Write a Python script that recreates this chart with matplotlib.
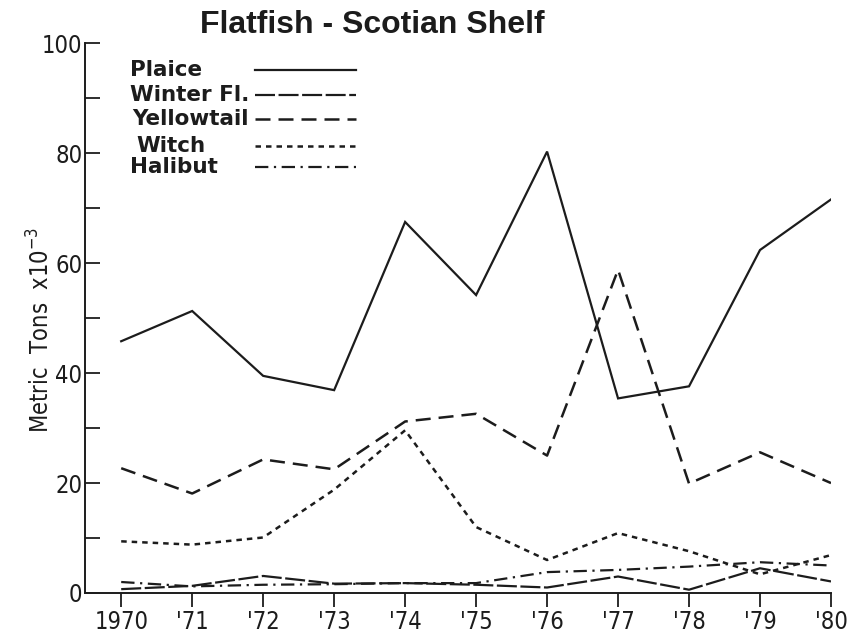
import matplotlib
matplotlib.use("Agg")
import matplotlib.pyplot as plt
from matplotlib import font_manager
from matplotlib.font_manager import FontProperties
import numpy as np
import os

# ---- data ----
years = [1970, 1971, 1972, 1973, 1974, 1975, 1976, 1977, 1978, 1979, 1980]
year_labels = ["1970", "'71", "'72", "'73", "'74", "'75", "'76", "'77", "'78", "'79", "'80"]
plaice = [45.8, 51.3, 39.5, 36.9, 67.5, 54.2, 80.3, 35.4, 37.6, 62.4, 71.6]
winter_fl = [0.7, 1.3, 3.1, 1.7, 1.8, 1.5, 1.0, 3.0, 0.6, 4.5, 2.1]
yellowtail = [22.7, 18.1, 24.3, 22.5, 31.2, 32.6, 25.0, 58.8, 19.9, 25.6, 20.0]
witch = [9.4, 8.8, 10.1, 18.8, 29.6, 12.0, 6.0, 10.9, 7.6, 3.4, 6.9]
halibut = [2.0, 1.2, 1.5, 1.6, 1.8, 1.8, 3.8, 4.2, 4.8, 5.6, 5.0]
series_names = ["Plaice", "Winter Fl.", "Yellowtail", "Witch", "Halibut"]


def find_narrow():
    prefs = ["LiberationSansNarrow-Regular", "DejaVuSansCondensed.ttf",
             "RobotoCondensed-Regular", "OpenSans_Condensed-Regular", "Narrow", "Condensed"]
    files = [f.fname for f in font_manager.fontManager.ttflist]
    for p in prefs:
        for fn in files:
            b = os.path.basename(fn)
            if p in b and "Bold" not in b and "Italic" not in b and "Oblique" not in b:
                return FontProperties(fname=fn)
    return FontProperties(family="Liberation Sans")


narrow = find_narrow()

ink = "#1c1c1c"
fig = plt.figure(figsize=(8.52, 6.42), dpi=100)
ax = fig.add_axes([85 / 852, 1 - 593 / 642, (831 - 85) / 852, (593 - 43.3) / 642])

styles = [
    dict(ls="-", lw=1.6),
    dict(ls=(0, (9, 1.6)), lw=1.6),
    dict(ls=(0, (6, 3.2)), lw=1.8),
    dict(ls=(0, (2.2, 2.0)), lw=1.8),
    dict(ls=(0, (6, 2.5, 1, 2.5)), lw=1.6),
]
data = [plaice, winter_fl, yellowtail, witch, halibut]
for d, st in zip(data, styles):
    ax.plot(years, d, color=ink, solid_joinstyle="miter", dash_capstyle="butt", **st)

ax.set_xlim(1969.49, 1980)
ax.set_ylim(0, 100)
for s in ["top", "right"]:
    ax.spines[s].set_visible(False)
for s in ["left", "bottom"]:
    ax.spines[s].set_color(ink)
    ax.spines[s].set_linewidth(1.4)
ax.spines["bottom"].set_bounds(1969.49, 1980)

ax.set_xticks(years)
ax.set_xticklabels(year_labels, fontproperties=narrow, fontsize=17, color=ink)
ax.set_yticks(np.arange(0, 101, 20))
ax.set_yticklabels([str(v) for v in range(0, 101, 20)], fontproperties=narrow, fontsize=17, color=ink)
ax.set_yticks(np.arange(10, 100, 20), minor=True)
ax.tick_params(axis="y", which="both", direction="in", length=11, width=1.3, color=ink, pad=2)
ax.tick_params(axis="x", direction="out", length=10, width=1.3, color=ink, pad=2)

ax.set_ylabel(r"Metric  Tons  x10$^{\mathregular{-3}}$", fontproperties=narrow, fontsize=17, color=ink)
ax.yaxis.set_label_coords(-30 / 746, (593 - 330) / 549.7)

fig.text(372 / 852, 1 - 25 / 642, "Flatfish - Scotian Shelf", ha="center", va="center",
         family="Liberation Sans", weight="bold", fontsize=23, color=ink)


# legend drawn manually
def axx(px):
    return (px - 85) / 746


def axy(py):
    return (593 - py) / 549.7


rows_y = [70, 95, 119, 146, 167]
text_x = [130, 130, 132, 136, 130]
for name, ty, tx, st in zip(series_names, rows_y, text_x, styles):
    ax.text(axx(tx), axy(ty), name, transform=ax.transAxes, ha="left", va="center",
            family="DejaVu Sans", weight="bold", fontsize=15.5, color=ink)
    ax.plot([axx(255), axx(356)], [axy(ty), axy(ty)], transform=ax.transAxes,
            color=ink, dash_capstyle="butt", **st)

fig.savefig("out.png", dpi=100, facecolor="white")
